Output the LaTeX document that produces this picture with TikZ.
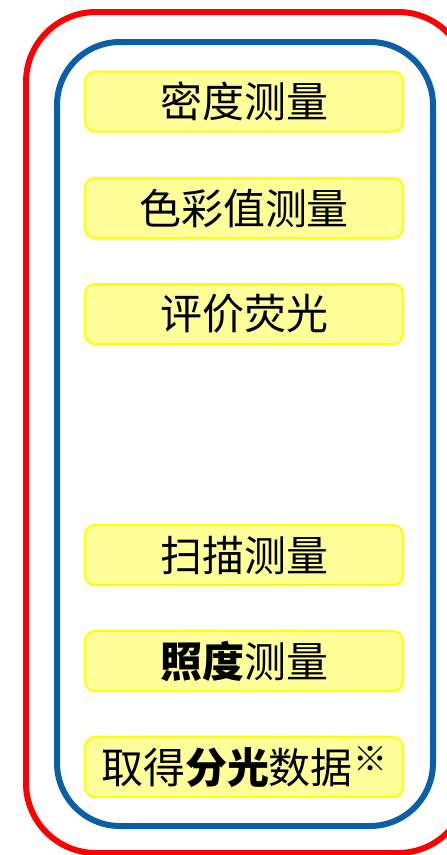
\documentclass[tikz,border=0pt]{standalone}
\usepackage{fontspec}
\setmainfont{Noto Sans CJK SC}
\usepackage{tikz}
\definecolor{outerred}{HTML}{FF0000}
\definecolor{innerblue}{HTML}{0A5FA8}
\definecolor{boxfill}{HTML}{FFFF99}
\definecolor{boxline}{HTML}{FFFF00}
\tikzset{
  itembox/.style={anchor=center, draw=boxline, fill=boxfill, line width=2pt,
    rounded corners=10pt, minimum width=318pt, minimum height=60pt,
    inner sep=0pt, font=\fontsize{42pt}{48pt}\selectfont},
}

\begin{document}
\begin{tikzpicture}[x=1pt, y=-1pt]
\useasboundingbox (0,0) rectangle (447,855);
\clip (0,0) rectangle (447,855);
\draw[outerred, line width=6pt, rounded corners=70pt] (26,12) rectangle (468,853);
\draw[innerblue, line width=6pt, rounded corners=63pt] (57,42) rectangle (433,826);

\node[itembox] (midu) at (244,101.5) {\raisebox{-3pt}{密度测量}};
\node[itembox] (secai) at (244,208) {\raisebox{-3pt}{色彩值测量}};
\node[itembox] (yingguang) at (244,314) {\raisebox{-3pt}{评价荧光}};
\node[itembox] (saomiao) at (244,555) {\raisebox{-3pt}{扫描测量}};
\node[itembox] (zhaodu) at (244,661) {\raisebox{-3pt}{{\bfseries 照度}测量}};
\node[itembox] (fenguang) at (244,767) {\raisebox{-3pt}{取得{\bfseries 分光}数据\raisebox{0.3em}{\fontsize{34pt}{34pt}\selectfont\bfseries ※}}};
\end{tikzpicture}
\end{document}
